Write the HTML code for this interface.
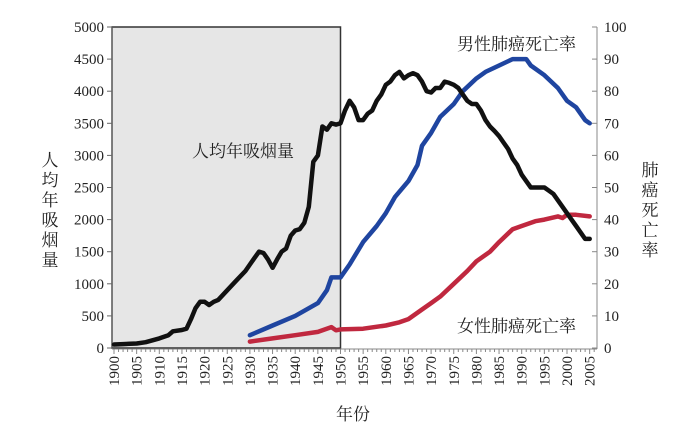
<!DOCTYPE html>
<html><head><meta charset="utf-8"><style>
body{margin:0;background:#fff}
text{font-family:"Liberation Serif","Noto Serif CJK SC",serif;fill:#222}
</style></head><body>
<svg id="c" width="700" height="441" viewBox="0 0 700 441" xmlns="http://www.w3.org/2000/svg"></svg>
<script>
const cigYears=[1900,1902,1905,1907,1910,1912,1913,1915,1916,1917,1918,1919,1920,1921,1922,1923,1925,1927,1929,1930,1931,1932,1933,1934,1935,1936,1937,1938,1939,1940,1941,1942,1943,1944,1945,1946,1947,1948,1949,1950,1951,1952,1953,1954,1955,1956,1957,1958,1959,1960,1961,1962,1963,1964,1965,1966,1967,1968,1969,1970,1971,1972,1973,1974,1975,1976,1977,1978,1979,1980,1981,1982,1983,1984,1985,1986,1987,1988,1989,1990,1991,1992,1993,1994,1995,1996,1997,1998,1999,2000,2001,2002,2003,2004,2005];
const cigValues=[54,60,70,90,150,200,260,280,300,450,620,720,720,670,720,750,900,1050,1200,1300,1400,1500,1480,1380,1250,1380,1500,1550,1750,1830,1850,1950,2200,2900,3000,3450,3400,3500,3480,3500,3700,3850,3750,3550,3550,3650,3700,3850,3950,4100,4150,4250,4300,4200,4250,4280,4250,4150,4000,3980,4050,4050,4150,4130,4100,4050,3950,3850,3800,3800,3700,3550,3450,3380,3300,3200,3100,2950,2850,2700,2600,2500,2500,2500,2500,2450,2400,2300,2200,2100,2000,1900,1800,1700,1700];
const maleYears=[1930,1935,1940,1945,1947,1948,1950,1952,1955,1958,1960,1962,1965,1967,1968,1970,1972,1975,1977,1980,1982,1985,1988,1990,1991,1992,1995,1998,2000,2002,2004,2005];
const maleValues=[4,7,10,14,18,22,22,26,33,38,42,47,52,57,63,67,72,76,80,84,86,88,90,90,90,88,85,81,77,75,71,70];
const femaleYears=[1930,1935,1940,1945,1948,1949,1950,1955,1960,1963,1965,1968,1970,1972,1975,1978,1980,1983,1985,1988,1990,1993,1995,1998,1999,2000,2002,2005];
const femaleValues=[2,3,4,5,6.5,5.5,5.8,6,7,8,9,12,14,16,20,24,27,30,33,37,38,39.5,40,41,40.5,41.5,41.5,41];
const leftTicks=[0,500,1000,1500,2000,2500,3000,3500,4000,4500,5000];
const rightTicks=[0,10,20,30,40,50,60,70,80,90,100];
const NS="http://www.w3.org/2000/svg",svg=document.getElementById('c');
const X=y=>114+(y-1900)*4.53, YL=v=>348-v/5000*321, YR=v=>348-v/100*321;
function mk(t,a,p){const e=document.createElementNS(NS,t);for(const k in a)e.setAttribute(k,a[k]);(p||svg).appendChild(e);return e;}
const box=mk('rect',{x:112,y:27,width:X(1950)-112,height:321,fill:'#e6e6e6',stroke:'#333','stroke-width':1.5});


const ax=mk('line',{x1:112,y1:27,x2:112,y2:349,stroke:'#666'});


const ax2=mk('line',{x1:597,y1:27,x2:597,y2:349,stroke:'#888'});


const ax3=mk('line',{x1:112,y1:349,x2:597,y2:349,stroke:'#888'});


leftTicks.forEach(v=>{mk('line',{x1:107,y1:YL(v),x2:112,y2:YL(v),stroke:'#666'});
 const t=mk('text',{x:104,y:YL(v)+5,'text-anchor':'end','font-size':15});t.textContent=v;
 
 });
rightTicks.forEach(v=>{mk('line',{x1:592,y1:YR(v),x2:597,y2:YR(v),stroke:'#888'});
 const t=mk('text',{x:604,y:YR(v)+5,'font-size':15});t.textContent=v;
 
 });
for(let y=1900;y<=2006;y++){mk('line',{x1:X(y),y1:349,x2:X(y),y2:y%5?352:354,stroke:'#888'});
 if(y%5===0&&y<=2005){const t=mk('text',{x:0,y:0,'font-size':15,transform:`translate(${X(y)+5},356) rotate(-90)`,'text-anchor':'end'});t.textContent=y;
 
 }}
function line(xs,vs,f,c,n){const d=xs.map((y,i)=>(i?'L':'M')+X(y).toFixed(1)+','+f(vs[i]).toFixed(1)).join('');
 const p=mk('path',{d,fill:'none',stroke:c,'stroke-width':4.5,'stroke-linejoin':'round','stroke-linecap':'round'});
 
 }
line(femaleYears,femaleValues,YR,'#c0283f','female-lung-cancer-line');
line(maleYears,maleValues,YR,'#1f45a0','male-lung-cancer-line');
line(cigYears,cigValues,YL,'#111','cigarette-consumption-line');
function lab(x,y,s,n,sz){const t=mk('text',{x,y,'font-size':sz||17});t.textContent=s;
 
 return t;}
lab(192,157,'人均年吸烟量','cigarette-series-label');
lab(457,50,'男性肺癌死亡率','male-series-label');
lab(457,332,'女性肺癌死亡率','female-series-label');
lab(336,420,'年份','x-axis-title');
const l1=mk('text',{x:50,y:160,'font-size':17,'text-anchor':'middle'});


['人','均','年','吸','烟','量'].forEach((c,i)=>{const s=mk('tspan',{x:50,y:166+i*20},l1);s.textContent=c;});
const l2=mk('text',{x:650,y:170,'font-size':17,'text-anchor':'middle'});


['肺','癌','死','亡','率'].forEach((c,i)=>{const s=mk('tspan',{x:650,y:176+i*20},l2);s.textContent=c;});
</script>
</body></html>
